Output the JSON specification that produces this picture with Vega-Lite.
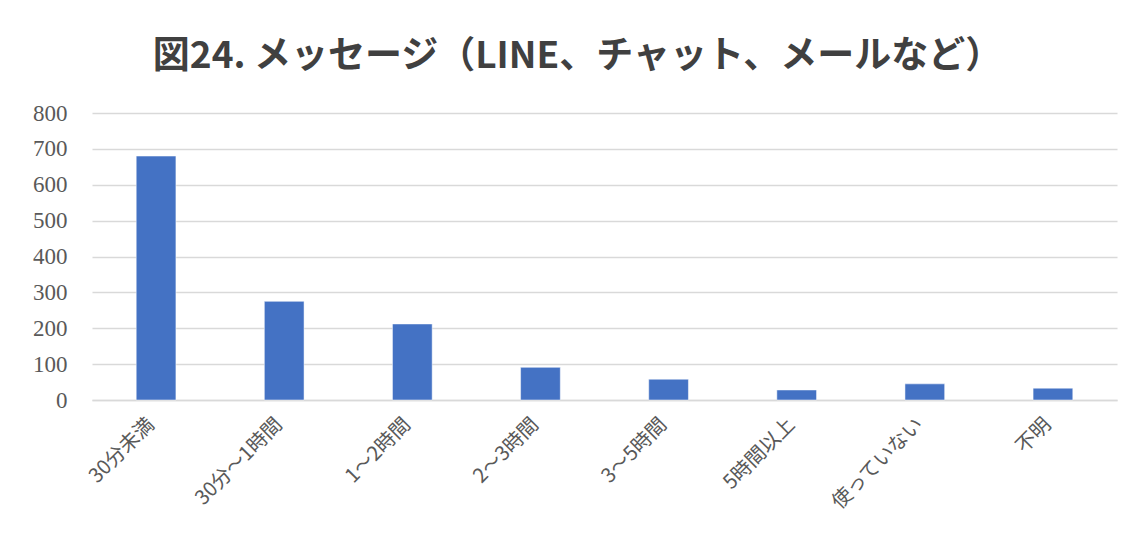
{
  "$schema": "https://vega.github.io/schema/vega-lite/v6.json",
  "autosize": {"type": "none"},
  "width": 1025,
  "height": 287,
  "padding": {"left": 92, "top": 113, "right": 7, "bottom": 149},
  "background": "white",
  "title": {
    "text": "図24. メッセージ（LINE、チャット、メールなど）",
    "font": "Noto Sans CJK JP",
    "fontSize": 37,
    "fontWeight": "bold",
    "color": "#404040",
    "anchor": "middle",
    "dx": -27,
    "offset": 26
  },
  "data": {
    "values": [
      {"category": "30分未満", "value": 680},
      {"category": "30分～1時間", "value": 275},
      {"category": "1～2時間", "value": 212},
      {"category": "2～3時間", "value": 91},
      {"category": "3～5時間", "value": 58},
      {"category": "5時間以上", "value": 28},
      {"category": "使っていない", "value": 45},
      {"category": "不明", "value": 33}
    ]
  },
  "mark": {"type": "bar", "color": "#4472C4", "stroke": "#ffffff", "strokeWidth": 0.5},
  "encoding": {
    "x": {
      "field": "category",
      "type": "nominal",
      "sort": null,
      "scale": {"paddingInner": 0.69, "paddingOuter": 0.345},
      "axis": {
        "title": null,
        "labelAngle": -45,
        "labelFont": "Noto Sans CJK JP",
        "labelFontSize": 20,
        "labelColor": "#595959",
        "labelPadding": 14,
        "labelOffset": -12,
        "ticks": false,
        "domainColor": "#d9d9d9",
        "domainWidth": 1.5
      }
    },
    "y": {
      "field": "value",
      "type": "quantitative",
      "scale": {"domain": [0, 800]},
      "axis": {
        "title": null,
        "values": [0, 100, 200, 300, 400, 500, 600, 700, 800],
        "labelFont": "Liberation Serif",
        "labelFontSize": 23,
        "labelColor": "#595959",
        "labelPadding": 25,
        "ticks": false,
        "domain": false,
        "gridColor": "#d9d9d9",
        "gridWidth": 1.5
      }
    }
  },
  "config": {"view": {"stroke": null}}
}
